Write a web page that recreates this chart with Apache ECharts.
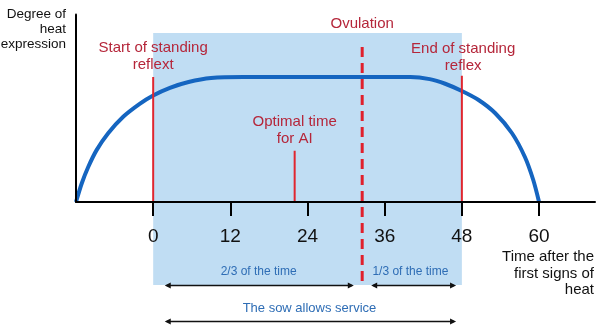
<!DOCTYPE html>
<html><head><meta charset="utf-8">
<script src="https://cdn.jsdelivr.net/npm/echarts@6/dist/echarts.min.js"></script>
<style>html,body{margin:0;padding:0;background:#fff}#c{width:600px;height:330px}</style>
</head><body><div id="c"></div>
<script>
// ---- data ----
const tickValues = [0, 12, 24, 36, 48, 60];
const heatX = [-12, -11.1, -10.1, -8.8, -7.0, -4.7, -2.1, 0, 2.6, 5.5, 9, 14, 40, 43, 45.4, 48, 50.6, 53.2, 55.8, 57.8, 59.1, 60];
const heatY = [0, 15, 28, 41.5, 55, 68, 78.5, 85.2, 91.3, 96, 99.2, 100, 100, 98.3, 94.6, 88.8, 81.6, 71, 55, 36, 17.6, 0];
// shaded service window: [xStart, xEnd, yBottom, yTop]
const serviceWindow = [[0, 48, -66.4, 135.2]];
// red solid markers: [x, yBottom, yTop]
const markerLines = [[0, 0, 100], [48, 0, 101], [22, 0, 41]];
// ovulation dashed line: [x, yBottom, yTop]
const ovulationLine = [[32.5, -68, 124]];
// double arrows: [xStart, xEnd, y]
const arrows = [[1.8, 31.2, -66], [33.9, 47.1, -66], [1.8, 47.1, -95.2]];
// red annotation labels
const redLabelTexts = ['Start of standing\nreflext', 'End of standing\nreflex', 'Ovulation', 'Optimal time\nfor AI'];
const redLabelX = [0, 48.2, 32.5, 22];
const redLabelY = [116.4, 116, 142.4, 57.6];
// blue annotation labels
const blueLabelTexts = ['2/3 of the time', '1/3 of the time', 'The sow allows service'];
const blueLabelX = [16.4, 40.0, 24.3];
const blueLabelY = [-56, -56, -84.8];
const blueLabelSize = [12, 12, 13];
const yAxisTitle = 'Degree of\nheat\nexpression';
const xAxisTitle = 'Time after the\nfirst signs of\nheat';

const FONT = '"Liberation Sans", Arial, sans-serif';
const chart = echarts.init(document.getElementById('c'), null, {renderer: 'canvas'});

const option = {
  animation: false,
  grid: {left: 76, right: 5, top: 14.5, bottom: 128, containLabel: false, outerBoundsMode: 'none'},
  xAxis: {
    type: 'value', min: -12, max: 68.7, interval: 12, z: 10,
    axisLine: {show: true, onZero: false, lineStyle: {color: '#000', width: 2}},
    axisTick: {show: true, customValues: tickValues, length: 14, lineStyle: {color: '#000', width: 2}},
    axisLabel: {customValues: tickValues, margin: 25, fontSize: 19, color: '#111', fontFamily: FONT},
    splitLine: {show: false}
  },
  yAxis: {
    type: 'value', min: 0, max: 150, z: 10,
    axisLine: {show: true, onZero: false, lineStyle: {color: '#000', width: 2}},
    axisTick: {show: false}, axisLabel: {show: false}, splitLine: {show: false}
  },
  graphic: [
    {type: 'text', x: 66, y: 29, z: 100,
     style: {text: yAxisTitle, align: 'right', verticalAlign: 'middle', fontSize: 13.5, lineHeight: 15, fill: '#111', fontFamily: FONT}},
    {type: 'text', x: 594, y: 273.5, z: 100,
     style: {text: xAxisTitle, align: 'right', verticalAlign: 'middle', fontSize: 15, lineHeight: 16.5, fill: '#111', fontFamily: FONT}}
  ],
  series: [
    {
      type: 'custom', z: -5, silent: true, clip: false,
      encode: {x: [0, 1], y: [2, 3]},
      data: serviceWindow,
      renderItem: function (params, api) {
        const p0 = api.coord([api.value(0), api.value(3)]);
        const p1 = api.coord([api.value(1), api.value(2)]);
        return {type: 'rect', shape: {x: p0[0], y: p0[1], width: p1[0] - p0[0], height: p1[1] - p0[1]},
          style: {fill: '#c0ddf3'}};
      }
    },
    {
      type: 'line', z: 3, silent: true,
      data: heatX.map((x, i) => [x, heatY[i]]),
      smooth: 0.3, showSymbol: false, symbol: 'none',
      lineStyle: {color: '#1565c0', width: 4}
    },
    {
      type: 'custom', z: 5, silent: true, clip: false,
      encode: {x: 0, y: [1, 2]},
      data: markerLines,
      renderItem: function (params, api) {
        const a = api.coord([api.value(0), api.value(1)]);
        const b = api.coord([api.value(0), api.value(2)]);
        return {type: 'line', shape: {x1: a[0], y1: a[1], x2: b[0], y2: b[1]},
          style: {stroke: '#e0262f', lineWidth: 2}};
      }
    },
    {
      type: 'custom', z: 6, silent: true, clip: false,
      encode: {x: 0, y: [1, 2]},
      data: ovulationLine,
      renderItem: function (params, api) {
        const a = api.coord([api.value(0), api.value(1)]);
        const b = api.coord([api.value(0), api.value(2)]);
        return {type: 'line', shape: {x1: a[0], y1: b[1], x2: b[0], y2: a[1]},
          style: {stroke: '#e0202c', lineWidth: 3, lineDash: [10, 6]}};
      }
    },
    {
      type: 'custom', z: 6, silent: true, clip: false,
      encode: {x: [0, 1], y: 2},
      data: arrows,
      renderItem: function (params, api) {
        const a = api.coord([api.value(0), api.value(2)]);
        const b = api.coord([api.value(1), api.value(2)]);
        const y = Math.round(a[1]) + 0.5, h = 6, w = 3;
        return {type: 'group', children: [
          {type: 'line', shape: {x1: a[0] + 2, y1: y, x2: b[0] - 2, y2: y}, style: {stroke: '#111', lineWidth: 1.5}},
          {type: 'polygon', shape: {points: [[a[0], y], [a[0] + h, y - w], [a[0] + h, y + w]]}, style: {fill: '#111'}},
          {type: 'polygon', shape: {points: [[b[0], y], [b[0] - h, y - w], [b[0] - h, y + w]]}, style: {fill: '#111'}}
        ]};
      }
    },
    {
      type: 'custom', z: 7, silent: true, clip: false,
      encode: {x: 0, y: 1},
      data: redLabelX.map((x, i) => [x, redLabelY[i]]),
      renderItem: function (params, api) {
        const p = api.coord([api.value(0), api.value(1)]);
        return {type: 'text', x: p[0], y: p[1],
          style: {text: redLabelTexts[params.dataIndex], align: 'center', verticalAlign: 'middle',
            fontSize: 15, lineHeight: 17, fill: '#b5263a', fontFamily: FONT}};
      }
    },
    {
      type: 'custom', z: 7, silent: true, clip: false,
      encode: {x: 0, y: 1},
      data: blueLabelX.map((x, i) => [x, blueLabelY[i]]),
      renderItem: function (params, api) {
        const p = api.coord([api.value(0), api.value(1)]);
        return {type: 'text', x: p[0], y: p[1],
          style: {text: blueLabelTexts[params.dataIndex], align: 'center', verticalAlign: 'middle',
            fontSize: blueLabelSize[params.dataIndex], fill: '#2e6db5', fontFamily: FONT}};
      }
    }
  ]
};
chart.setOption(option);
</script>
</body></html>
